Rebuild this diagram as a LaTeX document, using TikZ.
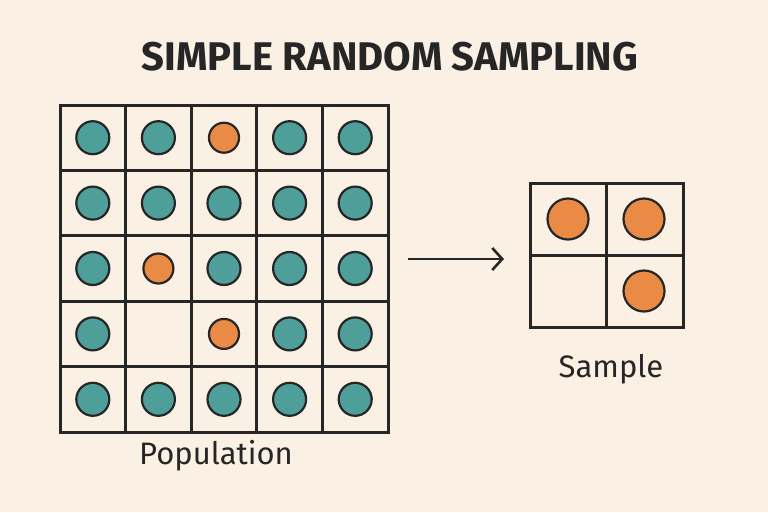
\documentclass[tikz,border=0pt]{standalone}
\usepackage{fontspec}
\setmainfont{Fira Sans}
\usetikzlibrary{positioning,arrows.meta}
\definecolor{paper}{HTML}{FAF0E4}
\definecolor{teal}{HTML}{4E9E9A}
\definecolor{orng}{HTML}{E98B45}
\begin{document}
\begin{tikzpicture}[x=1pt,y=-1pt,
    cell/.style={draw=black!85,line width=3pt,line cap=rect},
    dotT/.style={circle,draw=black!85,line width=2.2pt,fill=teal,minimum size=33pt,inner sep=0pt},
    dotO/.style={circle,draw=black!85,line width=2.2pt,fill=orng,minimum size=30pt,inner sep=0pt},
    bigO/.style={circle,draw=black!85,line width=2.2pt,fill=orng,minimum size=41pt,inner sep=0pt},
    ]

        % Background
        \fill[paper] (0,0) rectangle (768,512);

        % Title
        \node[font=\bfseries\fontsize{40}{44}\selectfont,text=black!85] (title) at (390,57) {SIMPLE RANDOM SAMPLING};

        % Population grid
        \foreach \i in {0,...,5} {
            \draw[cell] (60+65.6*\i,105) -- (60+65.6*\i,432);
            \draw[cell] (60,105+65.4*\i) -- (388,105+65.4*\i);
        }
        \foreach \r in {0,...,4} {
            \foreach \c in {0,...,4} {
                \coordinate (p\r\c) at (92.8+65.6*\c,137.7+65.4*\r);
            }
        }
        \foreach \r/\c in {0/0,0/1,0/3,0/4,1/0,1/1,1/2,1/3,1/4,2/0,2/2,2/3,2/4,3/0,3/3,3/4,4/0,4/1,4/2,4/3,4/4}
            \node[dotT] (d\r\c) at (p\r\c) {};
        \foreach \r/\c in {0/2,2/1,3/2}
            \node[dotO] (d\r\c) at (p\r\c) {};

        \node[font=\fontsize{31}{34}\selectfont,text=black!85] (pop) at (216,456) {Population};

        % Sample grid
        \draw[cell] (530,183) rectangle (683,327);
        \draw[cell] (606.5,183) -- (606.5,327);
        \draw[cell] (530,255) -- (683,255);
        \node[bigO] (s1) at (568,219) {};
        \node[bigO] (s2) at (644,219) {};
        \node[bigO] (s3) at (644,291) {};

        \node[font=\fontsize{31}{34}\selectfont,text=black!85] (sample) at (611,369) {Sample};

        % Arrow
        \coordinate (a1) at (408,259);
        \coordinate (a2) at (504,259);
        \draw[line width=2.6pt,draw=black!85,-{Straight Barb[length=10pt,width=22pt]}] (a1) -- (a2);

\end{tikzpicture}
\end{document}
